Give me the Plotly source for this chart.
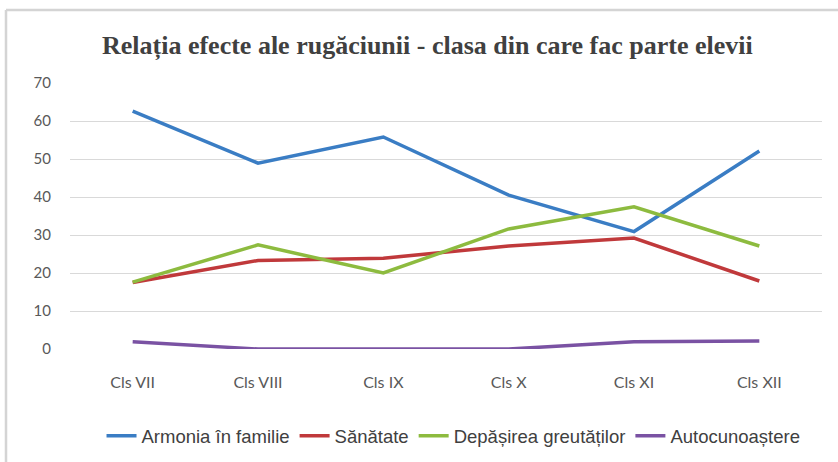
import plotly.graph_objects as go

categories = ["Cls VII", "Cls VIII", "Cls IX", "Cls X", "Cls XI", "Cls XII"]
armonia = [62.6, 48.9, 55.8, 40.5, 30.9, 52.1]
sanatate = [17.5, 23.3, 23.9, 27.1, 29.2, 17.9]
depasirea = [17.6, 27.4, 20.0, 31.6, 37.4, 27.1]
autocunoastere = [1.9, 0.0, 0.0, 0.0, 1.9, 2.1]

series = [
    ("Armonia în familie", armonia, "#3a7dc4"),
    ("Sănătate", sanatate, "#c0393b"),
    ("Depășirea greutăților", depasirea, "#8dbb3f"),
    ("Autocunoaștere", autocunoastere, "#7a52a3"),
]

fig = go.Figure()
for name, vals, color in series:
    fig.add_trace(go.Scatter(x=categories, y=vals, name=name, mode="lines",
                             line=dict(color=color, width=3.5)))

fig.update_layout(
    width=838, height=462,
    paper_bgcolor="white", plot_bgcolor="white",
    margin=dict(l=70, r=16, t=83, b=113, autoexpand=False),
    title=dict(text="Relația efecte ale rugăciunii - clasa din care fac parte elevii",
               x=0.51, xanchor="center", y=0.903, yanchor="middle",
               font=dict(family="Liberation Serif", size=26, color="#404040", weight="bold")),
    xaxis=dict(showgrid=False, showline=False, zeroline=False, ticks="",
               tickfont=dict(family="Lato", size=16, color="#595959"),
               ticklabelstandoff=22, range=[-0.5, 5.5]),
    yaxis=dict(range=[0, 70], dtick=10, showgrid=True, gridcolor="#d9d9d9", gridwidth=1,
               zeroline=False, showline=False, ticks="", ticklabelstandoff=18,
               tickfont=dict(family="Lato", size=15, color="#595959")),
    legend=dict(orientation="h", x=0.51, xanchor="center", y=-0.328, yanchor="middle",
                font=dict(family="Liberation Sans", size=18.5, color="#404040"),
                itemwidth=30, tracegroupgap=0),
    showlegend=True,
)

# chart outer border (top and left, as in the cropped reference)
bx = (6 - 70) / 752
by = (349 - 10) / 266
fig.add_shape(type="line", xref="paper", yref="paper", x0=bx, y0=by, x1=1.1, y1=by,
              line=dict(color="#d4d4d4", width=2.5))
fig.add_shape(type="line", xref="paper", yref="paper", x0=bx, y0=by, x1=bx, y1=-0.5,
              line=dict(color="#d4d4d4", width=2.5))

fig.write_html("out.html", config={"displayModeBar": False},
               post_script="document.body.style.margin='0';")
